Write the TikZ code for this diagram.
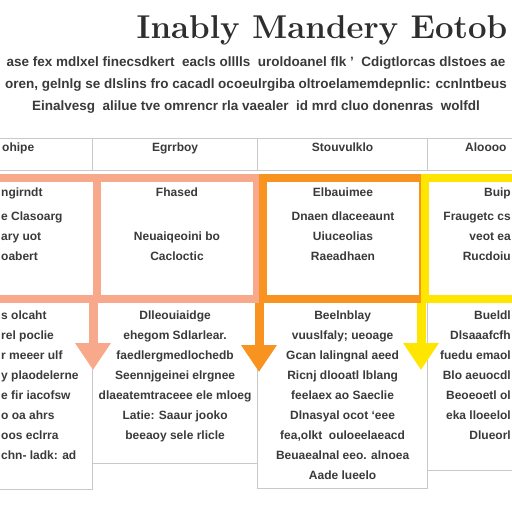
\documentclass[tikz,border=0pt]{standalone}
\usepackage{fontspec}
\setsansfont{Liberation Sans}
\usepackage{tikz}
\usetikzlibrary{arrows.meta,positioning,calc}
\definecolor{mdsalmon}{HTML}{F9A98B}
\definecolor{mdorange}{HTML}{F7931E}
\definecolor{mdyellow}{HTML}{FFE600}
\definecolor{mdline}{HTML}{C9C9C9}
\definecolor{mdtext}{HTML}{3A3A3A}

\begin{document}
\begin{tikzpicture}[
 x=1pt, y=-1pt,
 font=\sffamily\bfseries\fontsize{12}{20}\selectfont,
 cell/.style={draw=mdline,line width=1.2pt,anchor=north west,inner sep=0pt},
 frame/.style={draw=#1,line width=8pt,anchor=north west,inner sep=0pt,minimum height=121pt},
 txt/.style={text=mdtext,align=center,inner sep=0pt,anchor=north},
 ltxt/.style={txt,align=left,anchor=north west},
 rtxt/.style={txt,align=right,anchor=north east},
 flow/.style={line width=9pt,-{Triangle[width=34pt,length=27pt]}}
]
\useasboundingbox[fill=white] (0,0) rectangle (512,512);
% heading
\node[text=mdtext!80!black,anchor=base,font=\rmfamily\bfseries\fontsize{33}{36}\selectfont] (title) at (322,38)
 {Inably Mandery Eotob};
\node[txt,anchor=center,font=\sffamily\bfseries\fontsize{13.5}{22}\selectfont] (intro) at (256,85)
 {ase fex mdlxel finecsdkert\ \ eacls olllls\ \ uroldoanel flk ’\ \ Cdigtlorcas dlstoes ae\\
 oren, gelnlg se dlslins fro cacadl ocoeulrgiba oltroelamemdepnlic: ccnlntbeus\\
 Einalvesg\ \ alilue tve omrencr rla vaealer\ \ id mrd cluo donenras\ \ wolfdl};
% header row
\node[cell,minimum width=165pt,minimum height=32pt] (h0) at (-73,138) {};
\node[cell,minimum width=165pt,minimum height=32pt] (h1) at (92,138) {};
\node[cell,minimum width=170pt,minimum height=32pt] (h2) at (257,138) {};
\node[cell,minimum width=165pt,minimum height=32pt] (h3) at (427,138) {};
\node[ltxt] (h0t) at (2,143) {ohipe};
\node[txt,below=5pt of h1.north] (h1t) {Egrrboy};
\node[txt,below=5pt of h2.north] (h2t) {Stouvulklo};
\node[ltxt] (h3t) at (465,143) {Aloooo};
% lower row
\node[cell,minimum width=165pt,minimum height=189pt] (b0) at (-73,300) {};
\node[cell,minimum width=165pt,minimum height=163pt] (b1) at (92,300) {};
\node[cell,minimum width=170pt,minimum height=188pt] (b2) at (257,300) {};
\node[cell,minimum width=165pt,minimum height=170pt] (b3) at (427,300) {};
% coloured frames
\node[frame=mdsalmon,minimum width=166pt] (r0) at (-73,174) {};
\node[frame=mdsalmon,minimum width=160pt] (r1) at (93,174) {};
\node[frame=mdorange,minimum width=160pt] (r2) at (259,174) {};
\node[frame=mdyellow,minimum width=171pt] (r3) at (421,174) {};
\node[ltxt] (r0t) at (1,188) {ngirndt\\[4pt]e Clasoarg\\ary uot\\oabert};
\node[txt,below=14pt of r1.north] (r1t) {Fhased\\[24pt]Neuaiqeoini bo\\Cacloctic};
\node[txt,below=14pt of r2.north] (r2t) {Elbauimee\\[4pt]Dnaen dlaceeaunt\\Uiuceolias\\Raeadhaen};
\node[rtxt] (r3t) at (511,188) {Buip\\[4pt]Fraugetc cs\\veot ea\\Rucdoiu};
% arrow tips
\coordinate (a1) at (93,370);
\coordinate (a2) at (259,372);
\coordinate (a3) at (421,370);
\draw[flow,mdsalmon] (r1.south west) -- (a1);
\draw[flow,mdorange] (r2.south west) -- (a2);
\draw[flow,mdyellow] (r3.south west) -- (a3);
\node[ltxt] (b0t) at (1,311) {s olcaht\\rel poclie\\r meeer ulf\\y plaodelerne\\e fir iacofsw\\o oa ahrs\\oos eclrra\\chn- ladk: ad};
\node[txt,below=11pt of b1.north] (b1t) {Dlleouiaidge\\ehegom Sdlarlear.\\faedlergmedlochedb\\Seennjgeinei elrgnee\\dlaeatemtraceee ele mloeg\\Latie: Saaur jooko\\beeaoy sele rlicle};
\node[txt,below=11pt of b2.north] (b2t) {Beelnblay\\vuuslfaly; ueoage\\Gcan lalingnal aeed\\Ricnj dlooatl lblang\\feelaex ao Saeclie\\Dlnasyal ocot ‘eee\\fea,olkt\ \ ouloeelaeacd\\Beuaealnal eeo. alnoea\\Aade lueelo};
\node[rtxt] (b3t) at (511,311) {Bueldl\\Dlsaaafcfh\\fuedu emaol\\Blo aeuocdl\\Beoeoetl ol\\eka lloeelol\\Dlueorl};
\end{tikzpicture}
\end{document}
